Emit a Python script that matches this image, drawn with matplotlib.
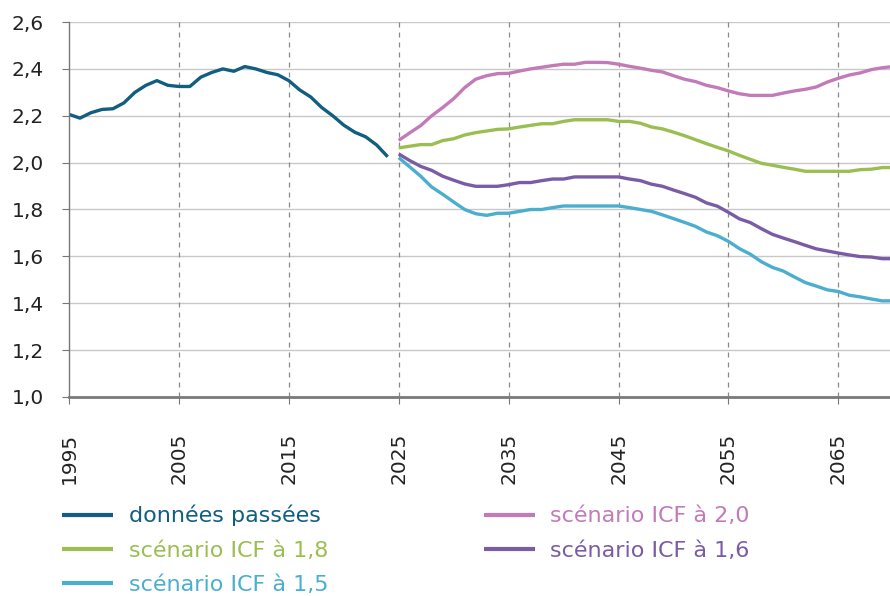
import matplotlib
matplotlib.use("Agg")
import matplotlib.pyplot as plt
from matplotlib.ticker import FuncFormatter

# ---------------------------------------------------------------------------
# Data
# ---------------------------------------------------------------------------

past_years = list(range(1995, 2025))
past_icf = [2.206, 2.19, 2.213, 2.227, 2.23, 2.255, 2.30, 2.33, 2.35, 2.33,
            2.325, 2.325, 2.365, 2.385, 2.40, 2.39, 2.41, 2.40, 2.385, 2.375,
            2.35, 2.31, 2.28, 2.235, 2.20, 2.16, 2.13, 2.11, 2.075, 2.025]

proj_years = list(range(2025, 2071))
icf_20 = [2.095, 2.127, 2.158, 2.20, 2.235, 2.273, 2.32, 2.356, 2.371, 2.38,
          2.381, 2.391, 2.40, 2.407, 2.414, 2.42, 2.42, 2.428, 2.428, 2.427,
          2.42, 2.411, 2.403, 2.394, 2.387, 2.371, 2.356, 2.346, 2.33, 2.32,
          2.306, 2.294, 2.287, 2.287, 2.287, 2.297, 2.306, 2.313, 2.323, 2.344,
          2.36, 2.374, 2.383, 2.397, 2.405, 2.41]
icf_18 = [2.063, 2.07, 2.077, 2.077, 2.094, 2.102, 2.118, 2.128, 2.135, 2.142,
          2.144, 2.152, 2.159, 2.166, 2.166, 2.176, 2.183, 2.183, 2.183, 2.183,
          2.176, 2.176, 2.168, 2.152, 2.144, 2.13, 2.115, 2.098, 2.081, 2.065,
          2.05, 2.031, 2.014, 1.997, 1.989, 1.98, 1.972, 1.963, 1.963, 1.963,
          1.963, 1.963, 1.97, 1.972, 1.979, 1.979]
icf_16 = [2.037, 2.009, 1.984, 1.967, 1.942, 1.925, 1.909, 1.899, 1.899, 1.899,
          1.906, 1.915, 1.915, 1.923, 1.93, 1.93, 1.939, 1.939, 1.939, 1.939,
          1.939, 1.93, 1.923, 1.908, 1.899, 1.883, 1.868, 1.852, 1.828, 1.814,
          1.788, 1.76, 1.744, 1.718, 1.694, 1.678, 1.663, 1.647, 1.632, 1.623,
          1.614, 1.606, 1.599, 1.597, 1.59, 1.59]
icf_15 = [2.021, 1.982, 1.942, 1.896, 1.865, 1.832, 1.80, 1.782, 1.775, 1.784,
          1.784, 1.792, 1.80, 1.80, 1.808, 1.815, 1.815, 1.815, 1.815, 1.815,
          1.815, 1.808, 1.80, 1.792, 1.777, 1.761, 1.745, 1.728, 1.704, 1.688,
          1.664, 1.633, 1.609, 1.577, 1.553, 1.537, 1.512, 1.488, 1.473, 1.457,
          1.45, 1.434, 1.427, 1.418, 1.41, 1.41]

x_ticks = list(range(1995, 2066, 10))
y_ticks = [1.0, 1.2, 1.4, 1.6, 1.8, 2.0, 2.2, 2.4, 2.6]

# ---------------------------------------------------------------------------
# Plot
# ---------------------------------------------------------------------------

plt.rcParams["font.family"] = ["DejaVu Sans"]

fig = plt.figure(figsize=(8.9, 5.96), dpi=100)
ax = fig.add_axes([0.0775, 0.334, 0.9225, 0.629])

lw = 2.4
series = [
    (past_years, past_icf, "données passées", "#115e80"),
    (proj_years, icf_18, "scénario ICF à 1,8", "#9bbe52"),
    (proj_years, icf_15, "scénario ICF à 1,5", "#4baecf"),
    (proj_years, icf_20, "scénario ICF à 2,0", "#c27bb8"),
    (proj_years, icf_16, "scénario ICF à 1,6", "#7a5ba5"),
]
for xs, ys, label, colour in series:
    ax.plot(xs, ys, color=colour, lw=lw, label=label, solid_capstyle="butt")

ax.set_xlim(1995, 2069.7)
ax.set_ylim(1.0, 2.6)
ax.set_xticks(x_ticks)
ax.set_yticks(y_ticks)
ax.yaxis.set_major_formatter(FuncFormatter(lambda v, _: f"{v:.1f}".replace(".", ",")))
ax.tick_params(axis="x", labelrotation=90, labelsize=14.5, length=5,
               color="#777777", pad=21, labelcolor="#222222")
ax.tick_params(axis="y", labelsize=14.5, length=5, color="#777777", pad=13,
               labelcolor="#222222")

# grid
for y in y_ticks[1:]:
    ax.axhline(y, color="#c8c8c8", lw=1.0, zorder=0)
for x in x_ticks[1:]:
    ax.axvline(x, color="#8a8a8a", lw=0.9, ls=(0, (4, 4)), zorder=0)

for side in ("top", "right"):
    ax.spines[side].set_visible(False)
ax.spines["left"].set_color("#777777")
ax.spines["left"].set_linewidth(1.0)
ax.spines["bottom"].set_color("#7a7a7a")
ax.spines["bottom"].set_linewidth(2.0)

leg = fig.legend(loc="upper left", bbox_to_anchor=(62 / 890, 1 - 505 / 596),
                 ncol=2, frameon=False, fontsize=16, handlelength=2.3,
                 handletextpad=0.7, columnspacing=7.0, labelspacing=0.64,
                 borderaxespad=0, borderpad=0)
for txt, (_, _, _, colour) in zip(leg.get_texts(), series):
    txt.set_color(colour)
for line in leg.get_lines():
    line.set_linewidth(3.0)

fig.savefig("out.png", dpi=100)
